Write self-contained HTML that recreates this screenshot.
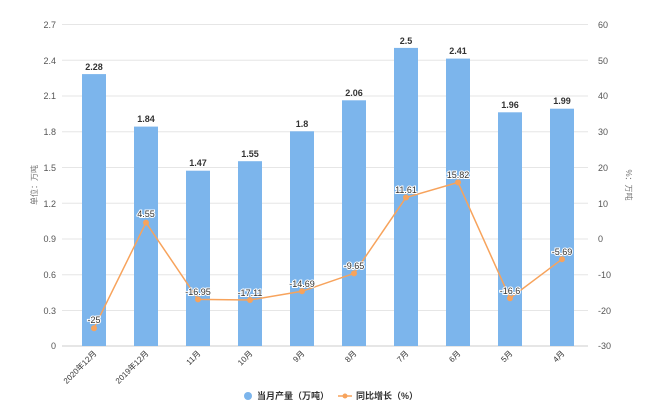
<!DOCTYPE html>
<html><head><meta charset="utf-8"><style>
body{margin:0;background:#fff;}
svg{display:block;font-family:"Liberation Sans","Noto Sans CJK SC",sans-serif;}
</style></head><body>
<svg width="650" height="420" viewBox="0 0 650 420">
<g stroke="#e6e6e6" stroke-width="1">
<line x1="62" x2="588" y1="24.5" y2="24.5"/><line x1="62" x2="588" y1="60.3" y2="60.3"/>
<line x1="62" x2="588" y1="96" y2="96"/><line x1="62" x2="588" y1="131.8" y2="131.8"/>
<line x1="62" x2="588" y1="167.5" y2="167.5"/><line x1="62" x2="588" y1="203.3" y2="203.3"/>
<line x1="62" x2="588" y1="239" y2="239"/><line x1="62" x2="588" y1="274.8" y2="274.8"/>
<line x1="62" x2="588" y1="310.5" y2="310.5"/>
</g>
<line x1="62" x2="588" y1="346" y2="346" stroke="#ccc"/>
<g font-size="9" fill="#555" text-anchor="end">
<text x="56" y="28">2.7</text><text x="56" y="64">2.4</text><text x="56" y="99">2.1</text>
<text x="56" y="135">1.8</text><text x="56" y="171">1.5</text><text x="56" y="207">1.2</text>
<text x="56" y="242">0.9</text><text x="56" y="278">0.6</text><text x="56" y="314">0.3</text><text x="56" y="349">0</text>
</g>
<g font-size="9" fill="#555" text-anchor="start">
<text x="598" y="28">60</text><text x="598" y="64">50</text><text x="598" y="99">40</text>
<text x="598" y="135">30</text><text x="598" y="171">20</text><text x="598" y="207">10</text>
<text x="598" y="242">0</text><text x="598" y="278">-10</text><text x="598" y="314">-20</text><text x="598" y="349">-30</text>
</g>
<text transform="translate(37,185) rotate(-90)" font-size="8" fill="#777" text-anchor="middle">单位：万吨</text>
<text transform="translate(626,185) rotate(90)" font-size="8" fill="#777" text-anchor="middle">%：万吨</text>
<g fill="#7cb5ec">
<rect x="82" y="74.1" width="24" height="271.9"/>
<rect x="134" y="126.6" width="24" height="219.4"/>
<rect x="186" y="170.7" width="24" height="175.3"/>
<rect x="238" y="161.2" width="24" height="184.8"/>
<rect x="290" y="131.3" width="24" height="214.7"/>
<rect x="342" y="100.3" width="24" height="245.7"/>
<rect x="394" y="47.9" width="24" height="298.1"/>
<rect x="446" y="58.6" width="24" height="287.4"/>
<rect x="498" y="112.3" width="24" height="233.7"/>
<rect x="550" y="108.7" width="24" height="237.3"/>
</g>
<g font-size="9" font-weight="bold" fill="#333" text-anchor="middle">
<text x="94" y="70">2.28</text><text x="146" y="122">1.84</text><text x="198" y="166">1.47</text>
<text x="250" y="157">1.55</text><text x="302" y="127">1.8</text><text x="354" y="96">2.06</text>
<text x="406" y="44">2.5</text><text x="458" y="54">2.41</text><text x="510" y="108">1.96</text><text x="562" y="104">1.99</text>
</g>
<polyline fill="none" stroke="#f7a35c" stroke-width="1.5" points="94,328.2 146,222.6 198,299.4 250,300 302,291.3 354,273.4 406,197.5 458,182.4 510,298.2 562,259.2"/>
<g fill="#f7a35c">
<circle cx="94" cy="328.2" r="3"/><circle cx="146" cy="222.6" r="3"/><circle cx="198" cy="299.4" r="3"/>
<circle cx="250" cy="300" r="3"/><circle cx="302" cy="291.3" r="3"/><circle cx="354" cy="273.4" r="3"/>
<circle cx="406" cy="197.5" r="3"/><circle cx="458" cy="182.4" r="3"/><circle cx="510" cy="298.2" r="3"/><circle cx="562" cy="259.2" r="3"/>
</g>
<g font-size="9" fill="#333" text-anchor="middle" stroke="#fff" stroke-width="2" paint-order="stroke">
<text x="94" y="323">-25</text><text x="146" y="217">4.55</text><text x="198" y="295">-16.95</text>
<text x="250" y="296">-17.11</text><text x="302" y="287">-14.69</text><text x="354" y="269">-9.65</text>
<text x="406" y="193">11.61</text><text x="458" y="178">15.82</text><text x="510" y="294">-16.6</text><text x="562" y="255">-5.69</text>
</g>
<g font-size="8" fill="#333" text-anchor="end">
<text transform="translate(97,354) rotate(-45)">2020年12月</text>
<text transform="translate(149,354) rotate(-45)">2019年12月</text>
<text transform="translate(201,354) rotate(-45)">11月</text>
<text transform="translate(253,354) rotate(-45)">10月</text>
<text transform="translate(305,354) rotate(-45)">9月</text>
<text transform="translate(357,354) rotate(-45)">8月</text>
<text transform="translate(409,354) rotate(-45)">7月</text>
<text transform="translate(461,354) rotate(-45)">6月</text>
<text transform="translate(513,354) rotate(-45)">5月</text>
<text transform="translate(565,354) rotate(-45)">4月</text>
</g>
<circle cx="248" cy="396" r="4" fill="#7cb5ec"/>
<text x="257" y="399" font-size="9" font-weight="bold" fill="#333">当月产量（万吨）</text>
<line x1="338" x2="352" y1="396" y2="396" stroke="#f7a35c" stroke-width="1.5"/>
<circle cx="345" cy="396" r="2.5" fill="#f7a35c"/>
<text x="356" y="399" font-size="9" font-weight="bold" fill="#333">同比增长（%）</text>
</svg>
</body></html>
